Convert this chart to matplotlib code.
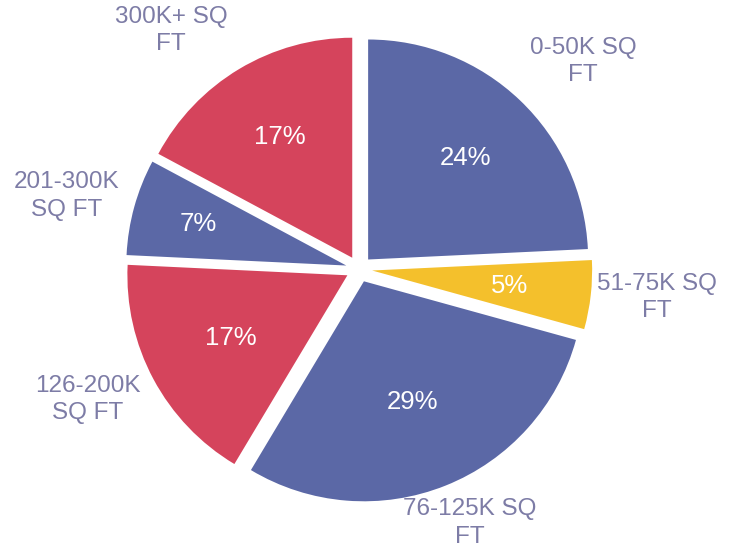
import numpy as np
import matplotlib.pyplot as plt

plt.rcParams['font.family'] = ['Liberation Sans', 'DejaVu Sans']

labels = ['0-50K SQ\nFT', '51-75K SQ\nFT', '76-125K SQ\nFT',
          '126-200K\nSQ FT', '201-300K\nSQ FT', '300K+ SQ\nFT']
shares = [24, 5, 29, 17, 7, 17]
colors = ['#5b68a6', '#f4c02c', '#5b68a6', '#d5445c', '#5b68a6', '#d5445c']

# label placement tweaks (radius in pie radii, angle shift in degrees)
label_r = [1.33, 1.30, 1.20, 1.31, 1.31, 1.32]
label_shift = [-3.7, 0.9, 1.9, -2.6, 1.5, 7.7]
pct_r = [0.64, 0.63, 0.59, 0.60, 0.70, 0.64]

fig = plt.figure(figsize=(7.33, 5.48), dpi=100)
ax = fig.add_axes([0, 0, 1, 1])

wedges, texts, autotexts = ax.pie(
    shares, labels=labels, colors=colors, startangle=90, counterclock=False,
    explode=[0.06] * len(shares), autopct='%.0f%%', pctdistance=0.64,
    labeldistance=1.3, wedgeprops=dict(linewidth=0),
    textprops=dict(fontsize=17.5))

for w, t, r, s in zip(wedges, texts, label_r, label_shift):
    mid = np.deg2rad((w.theta1 + w.theta2) / 2 + s)
    cx, cy = w.center
    t.set_position((cx + r * np.cos(mid), cy + r * np.sin(mid)))
    t.set_color('#7d7ca6')
    t.set_ha('center')
    t.set_va('center')
    t.set_multialignment('center')
    t.set_linespacing(1.3)

for w, t, r in zip(wedges, autotexts, pct_r):
    mid = np.deg2rad((w.theta1 + w.theta2) / 2)
    cx, cy = w.center
    t.set_position((cx + r * np.cos(mid), cy + r * np.sin(mid)))
    t.set_color('white')
    t.set_fontsize(18.5)

ax.set_xlim(-1.632, 1.700)
ax.set_ylim(-1.268, 1.223)
ax.set_aspect('equal')
ax.axis('off')

fig.savefig('out.png', dpi=100)
